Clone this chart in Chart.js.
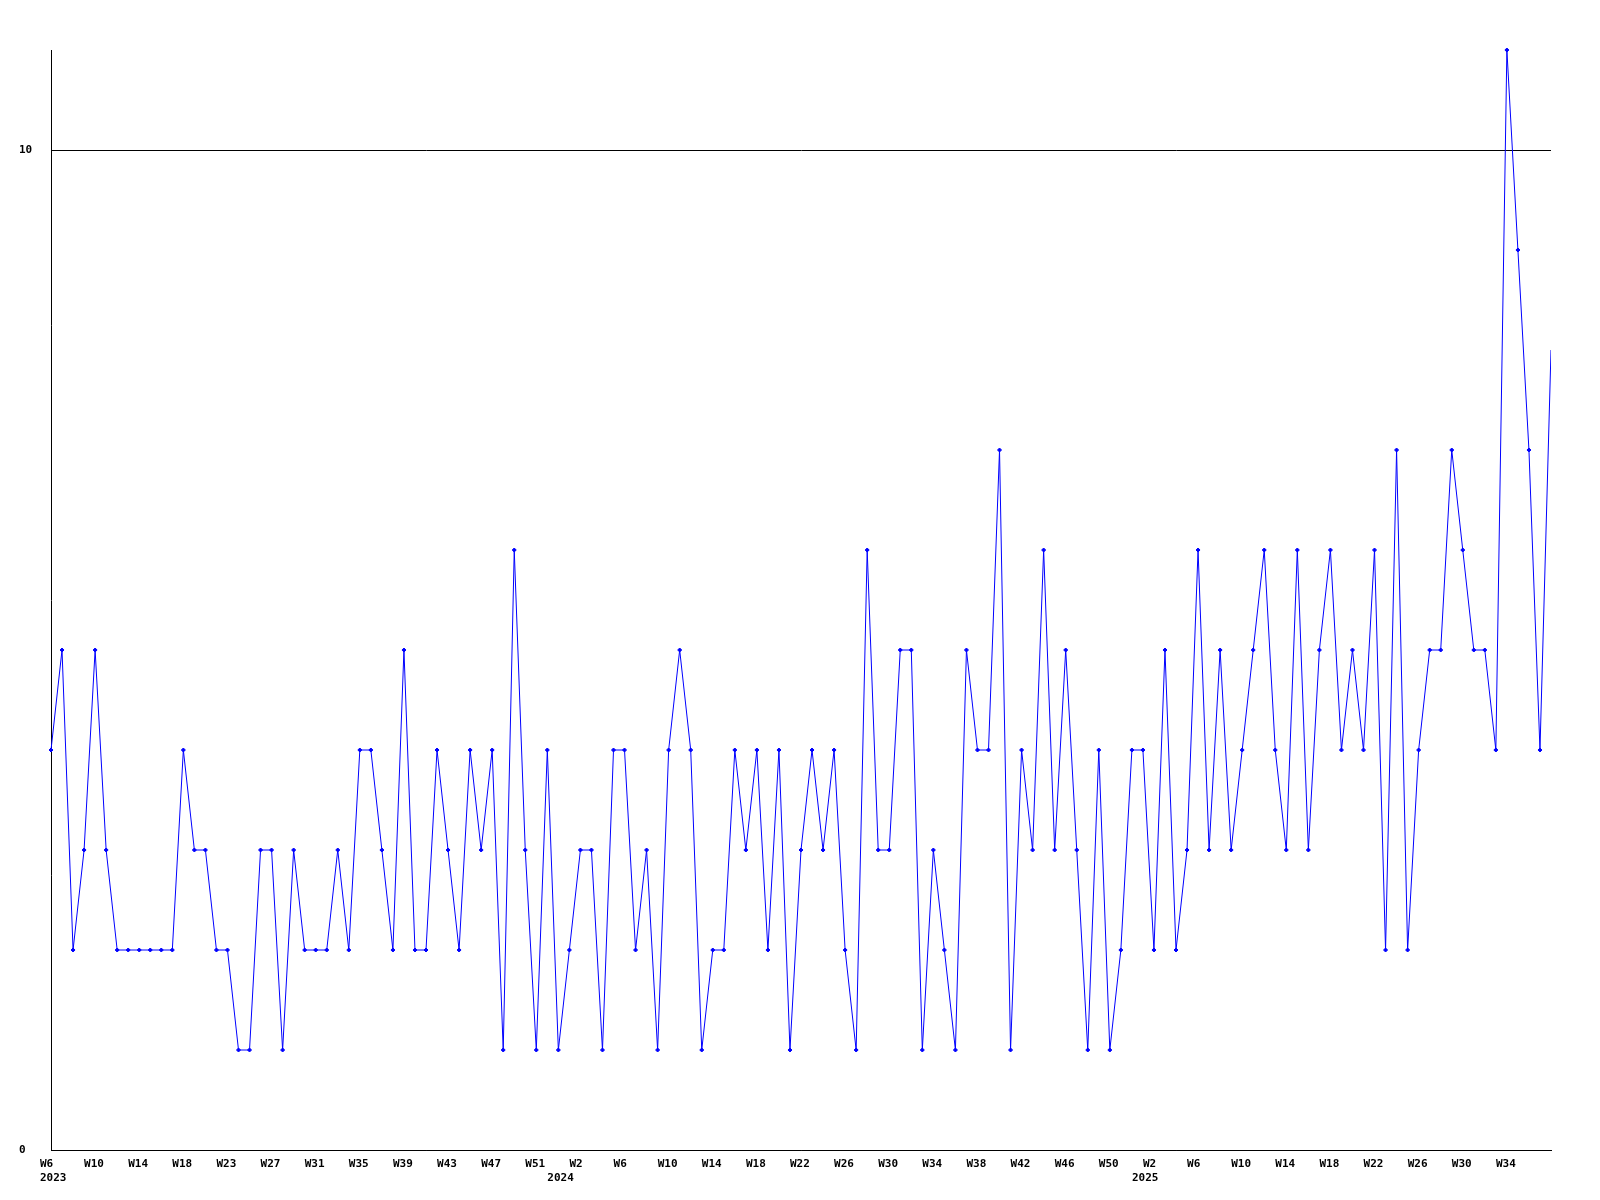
<!doctype html>
<html lang="en">
<head>
<meta charset="utf-8">
<title>Weekly count</title>
<style>
  body { margin: 0; background: #fff; }
  #chart { display: block; }
</style>
</head>
<body>
<canvas id="chart" width="1600" height="1200"></canvas>
<script src="https://cdn.jsdelivr.net/npm/chart.js"></script>
<script>
// weekly values, 2023 W6 .. 2025 W38
var counts = [
  4, 5, 2, 3, 5, 3, 2, 2, 2, 2, 2, 2, 4, 3, 3, 2, 2, 1, 1, 3,
  3, 1, 3, 2, 2, 2, 3, 2, 4, 4, 3, 2, 5, 2, 2, 4, 3, 2, 4, 3,
  4, 1, 6, 3, 1, 4, 1, 2, 3, 3, 1, 4, 4, 2, 3, 1, 4, 5, 4, 1,
  2, 2, 4, 3, 4, 2, 4, 1, 3, 4, 3, 4, 2, 1, 6, 3, 3, 5, 5, 1,
  3, 2, 1, 5, 4, 4, 7, 1, 4, 3, 6, 3, 5, 3, 1, 4, 1, 2, 4, 4,
  2, 5, 2, 3, 6, 3, 5, 3, 4, 5, 6, 4, 3, 6, 3, 5, 6, 4, 5, 4,
  6, 2, 7, 2, 4, 5, 5, 7, 6, 5, 5, 4, 11, 9, 7, 4, 8
];

// one week label every 4 points
var tickWeeks = [
  'W6', 'W10', 'W14', 'W18', 'W23', 'W27', 'W31', 'W35', 'W39', 'W43', 'W47', 'W51',
  'W2', 'W6', 'W10', 'W14', 'W18', 'W22', 'W26', 'W30', 'W34', 'W38', 'W42', 'W46', 'W50',
  'W2', 'W6', 'W10', 'W14', 'W18', 'W22', 'W26', 'W30', 'W34'
];
var tickEvery = 4;
// year labels and the point where each one sits
var years = ['2023', '2024', '2025'];
var yearAt = [0, 46, 99];
var yTicks = [0, 10];
var yMax = 11;

var labels = counts.map(function(v, i) { return i; });
var font = { family: 'DejaVu Sans Mono', size: 11, weight: 'bold', lineHeight: 1.3 };

new Chart(document.getElementById('chart'), {
  type: 'line',
  data: {
    labels: labels,
    datasets: [{
      data: counts,
      borderColor: '#0000ff',
      backgroundColor: '#0000ff',
      borderWidth: 1,
      tension: 0,
      pointStyle: 'rectRot',
      pointRadius: function(ctx) { return ctx.dataIndex === counts.length - 1 ? 0 : 2; },
      pointBorderWidth: 1,
      clip: { left: 4, top: 4, right: 0, bottom: 4 }
    }]
  },
  options: {
    responsive: false,
    animation: false,
    events: [],
    layout: { padding: { top: 50, left: 19, right: 49, bottom: 0 } },
    plugins: { legend: { display: false }, tooltip: { enabled: false } },
    scales: {
      x: {
        grid: { display: false, drawTicks: false },
        border: { display: true, color: '#000', width: 1 },
        afterFit: function(scale) { scale.height = 50; },
        ticks: {
          autoSkip: false,
          maxRotation: 0,
          minRotation: 0,
          align: 'start',
          labelOffset: -11,
          padding: 7,
          color: '#000',
          font: font,
          callback: function(val, i) {
            var week = '';
            if (i % tickEvery === 0 && i / tickEvery < tickWeeks.length) {
              week = tickWeeks[i / tickEvery];
            }
            var y = yearAt.indexOf(i);
            if (y >= 0) return [week, years[y]];
            return week;
          }
        }
      },
      y: {
        min: 0,
        max: yMax,
        afterBuildTicks: function(scale) {
          scale.ticks = yTicks.map(function(v) { return { value: v }; });
        },
        afterFit: function(scale) { scale.width = 32; },
        grid: { color: '#000', lineWidth: 1, drawTicks: false },
        border: { display: true, color: '#000', width: 1 },
        ticks: {
          crossAlign: 'far',
          padding: 0,
          color: '#000',
          font: font
        }
      }
    }
  }
});
</script>
</body>
</html>
